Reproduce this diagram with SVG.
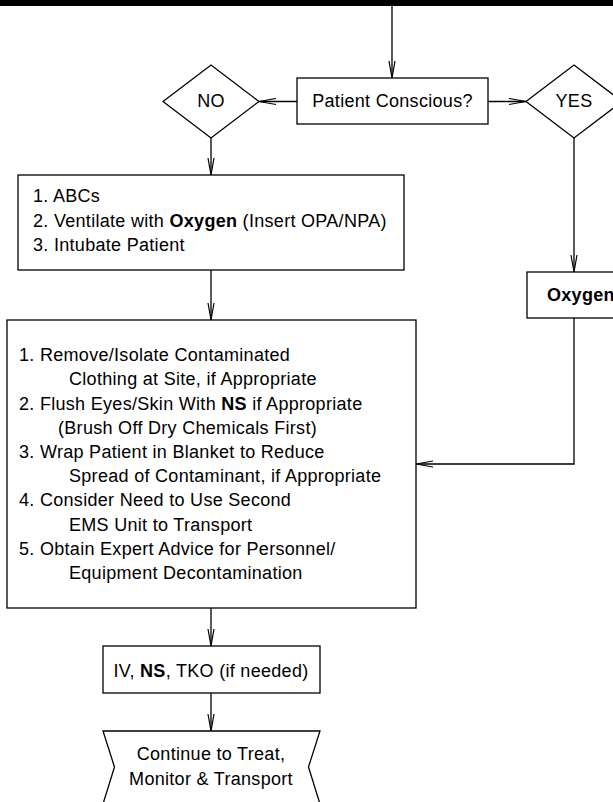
<svg xmlns="http://www.w3.org/2000/svg" width="613" height="802" viewBox="0 0 613 802">
  <style>
    .shape { fill: #fff; stroke: #000; stroke-width: 1.3; }
    .wire { fill: none; stroke: #000; stroke-width: 1.3; }
    text { font-family: "Liberation Sans", Arial, sans-serif; font-size: 18px; letter-spacing: 0.3px; fill: #000; }
    .mid { text-anchor: middle; }
    .b { font-weight: bold; }
  </style>
  <defs>
    <marker id="arrow" markerUnits="userSpaceOnUse" viewBox="-1 -4 19 8" refX="17" refY="0" markerWidth="19" markerHeight="8" orient="auto">
      <path d="M0,-3 L17,0 L0,3" fill="none" stroke="#000" stroke-width="1.2"/>
    </marker>
  </defs>

  <rect x="0" y="0" width="613" height="6" fill="#000"/>

  <g id="connectors" class="wire" marker-end="url(#arrow)">
    <path d="M392,6 V78"/>
    <path d="M297,101.5 H259"/>
    <path d="M488,101.5 H526"/>
    <path d="M211,138 V175"/>
    <path d="M574,138 V272"/>
    <path d="M211,270 V320"/>
    <path d="M574,318 V464 H416"/>
    <path d="M211,608 V646"/>
    <path d="M211,693 V731"/>
  </g>

  <g id="conscious">
    <rect class="shape" x="297" y="78" width="191" height="46"/>
    <text class="mid" x="392.5" y="107">Patient Conscious?</text>
  </g>

  <g id="no">
    <polygon class="shape" points="163,101.5 211,65 259,101.5 211,138"/>
    <text class="mid" x="211" y="107">NO</text>
  </g>

  <g id="yes">
    <polygon class="shape" points="526,101.5 574,65 622,101.5 574,138"/>
    <text class="mid" x="574" y="107">YES</text>
  </g>

  <g id="airway">
    <rect class="shape" x="18" y="175" width="386" height="95"/>
    <text x="33" y="202">1. ABCs</text>
    <text x="33" y="226.5">2. Ventilate with <tspan class="b">Oxygen</tspan> (Insert OPA/NPA)</text>
    <text x="33" y="251">3. Intubate Patient</text>
  </g>

  <g id="oxygen">
    <rect class="shape" x="527" y="272" width="94" height="46"/>
    <text class="b" x="547" y="301">Oxygen</text>
  </g>

  <g id="decon">
    <rect class="shape" x="7" y="320" width="409" height="288"/>
    <text x="19" y="361">1. Remove/Isolate Contaminated</text>
    <text x="69" y="385">Clothing at Site, if Appropriate</text>
    <text x="19" y="409.5">2. Flush Eyes/Skin With <tspan class="b">NS</tspan> if Appropriate</text>
    <text x="58" y="433.5">(Brush Off Dry Chemicals First)</text>
    <text x="19" y="458">3. Wrap Patient in Blanket to Reduce</text>
    <text x="69" y="482">Spread of Contaminant, if Appropriate</text>
    <text x="19" y="506">4. Consider Need to Use Second</text>
    <text x="69" y="530.5">EMS Unit to Transport</text>
    <text x="19" y="554.5">5. Obtain Expert Advice for Personnel/</text>
    <text x="69" y="579">Equipment Decontamination</text>
  </g>

  <g id="iv">
    <rect class="shape" x="103" y="646" width="217" height="47"/>
    <text class="mid" x="211" y="677">IV, <tspan class="b">NS</tspan>, TKO (if needed)</text>
  </g>

  <g id="continue">
    <polygon class="shape" points="103,731 320,731 308.5,767 320,804 103,804 114.5,767"/>
    <text class="mid" x="211" y="760">Continue to Treat,</text>
    <text class="mid" x="211" y="785">Monitor &amp; Transport</text>
  </g>
</svg>
